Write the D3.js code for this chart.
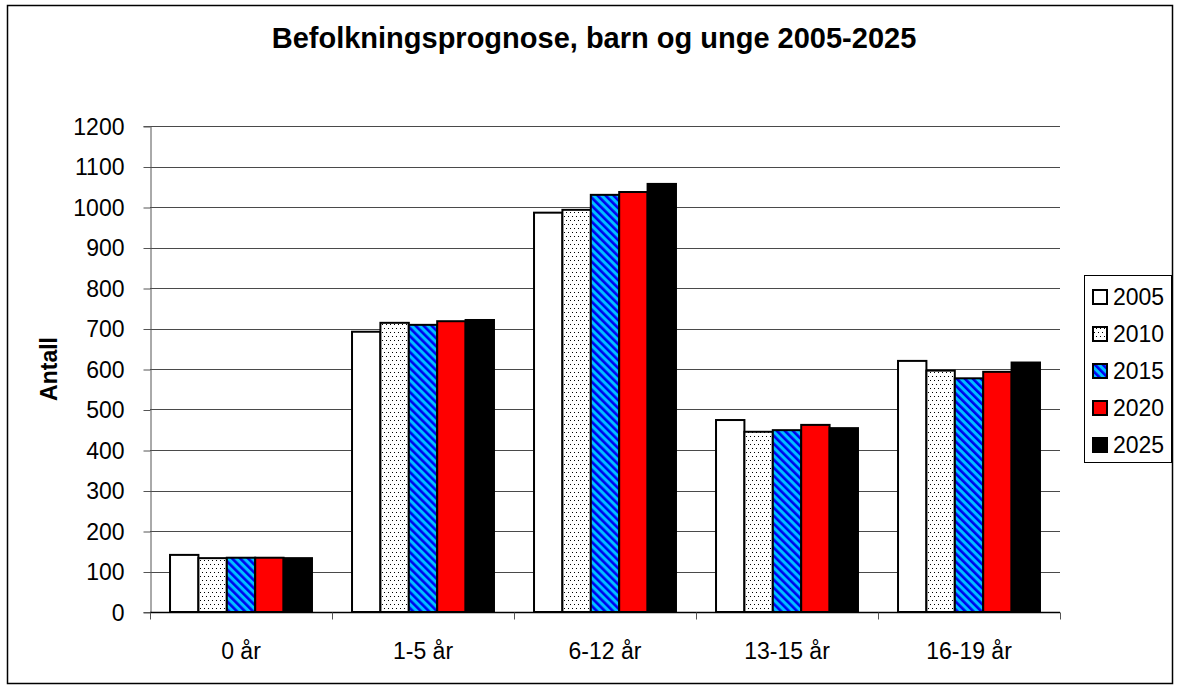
<!DOCTYPE html>
<html><head><meta charset="utf-8">
<script src="https://cdn.jsdelivr.net/npm/d3@7"></script>
<style>body{margin:0;background:#fff}svg{display:block}text{font-family:"Liberation Sans",Arial,sans-serif}</style>
</head><body><svg id="c" width="1180" height="688"></svg>
<script>
const categories = ["0 år","1-5 år","6-12 år","13-15 år","16-19 år"];
const series = ["2005","2010","2015","2020","2025"];
const v2005 = [141, 692, 986, 474, 620];
const v2010 = [133, 714, 993, 445, 596];
const v2015 = [134, 709, 1030, 449, 577];
const v2020 = [134, 718, 1037, 462, 593];
const v2025 = [133, 721, 1057, 454, 616];
const yTicks = [0,100,200,300,400,500,600,700,800,900,1000,1100,1200];
const values = [v2005, v2010, v2015, v2020, v2025];

const svg = d3.select("#c");
const defs = svg.append("defs");
// dots pattern
const pd = defs.append("pattern").attr("id","dots").attr("patternUnits","userSpaceOnUse").attr("width",8).attr("height",8);
pd.append("rect").attr("width",8).attr("height",8).attr("fill","#fff");
[[0,0],[4,0],[2,4],[6,4]].forEach(p=>pd.append("rect").attr("x",p[0]).attr("y",p[1]).attr("width",1).attr("height",1).attr("fill","#000"));
// stripes pattern
const ps = defs.append("pattern").attr("id","stripes").attr("patternUnits","userSpaceOnUse")
  .attr("width",5.66).attr("height",10).attr("patternTransform","rotate(-45)");
ps.append("rect").attr("width",5.66).attr("height",10).attr("fill","#00c0ff");
ps.append("rect").attr("width",2.6).attr("height",10).attr("fill","#0000ee");

const fills = ["#fff","url(#dots)","url(#stripes)","#ff0000","#000"];

// outer border
svg.append("rect").attr("x",7.5).attr("y",5.5).attr("width",1165).attr("height",678)
  .attr("fill","#fff").attr("stroke","#000").attr("stroke-width",1.5);

const L=150,R=1060,T=126,B=612;
const x0 = d3.scaleBand().domain(categories).range([L,R]).paddingInner(0.22).paddingOuter(0.11);
const x1 = d3.scaleBand().domain(series).range([0,x0.bandwidth()]).padding(0);
const y = d3.scaleLinear().domain([0,1200]).range([B,T]);

// gridlines
svg.append("g").selectAll("line").data(yTicks.filter(d=>d>0)).join("line")
  .attr("x1",L).attr("x2",R).attr("y1",d=>Math.round(y(d))+0.5).attr("y2",d=>Math.round(y(d))+0.5)
  .attr("stroke","#4a4a4a").attr("stroke-width",1);

// bars
const g = svg.append("g");
categories.forEach((c,ci)=>{
  series.forEach((s,si)=>{
    const v = values[si][ci];
    g.append("rect").attr("x",x0(c)+x1(s)).attr("y",y(v)).attr("width",x1.bandwidth()).attr("height",B-y(v))
      .attr("fill",fills[si]).attr("stroke","#000").attr("stroke-width",2);
  });
});

// y axis
const ya = svg.append("g").attr("transform",`translate(${L+0.5},0)`)
  .call(d3.axisLeft(y).tickValues(yTicks).tickFormat(d3.format("d")).tickSize(7).tickPadding(19));
ya.attr("font-family",null).attr("font-size",null);
ya.select(".domain").attr("stroke","#555");
ya.selectAll(".tick line").attr("stroke","#555").attr("transform","translate(0,0.5)");
ya.selectAll("text").attr("font-size",23).attr("fill","#000").attr("dy","0.36em");

// x axis
const xa = svg.append("g").attr("transform",`translate(0,${B+0.5})`);
xa.append("line").attr("x1",L).attr("x2",R).attr("stroke","#000").attr("stroke-width",1.5);
const bounds = d3.range(categories.length+1).map(i=>L+(R-L)/categories.length*i);
xa.selectAll("line.t").data(bounds).join("line").attr("class","t")
  .attr("x1",d=>Math.round(d)+0.5).attr("x2",d=>Math.round(d)+0.5).attr("y1",0).attr("y2",7).attr("stroke","#555");
xa.selectAll("text").data(categories).join("text")
  .attr("x",d=>x0(d)+x0.bandwidth()/2).attr("y",46).attr("text-anchor","middle").attr("font-size",23).text(d=>d);

// title
svg.append("text").attr("x",594).attr("y",48).attr("text-anchor","middle").attr("font-size",29).attr("font-weight","bold").text("Befolkningsprognose, barn og unge 2005-2025");
// y label
svg.append("text").attr("transform","translate(57,369) rotate(-90)").attr("text-anchor","middle").attr("font-size",23).attr("font-weight","bold").text("Antall");

// legend
const lg = svg.append("g");
lg.append("rect").attr("x",1084.5).attr("y",275.5).attr("width",87).attr("height",187).attr("fill","#fff").attr("stroke","#000").attr("stroke-width",1);
series.forEach((s,i)=>{
  const cy = 297 + i*37;
  lg.append("rect").attr("x",1093).attr("y",cy-7).attr("width",14).attr("height",14).attr("fill",fills[i]).attr("stroke","#000").attr("stroke-width",2);
  lg.append("text").attr("x",1113).attr("y",cy+8).attr("font-size",23).text(s);
});
</script></body></html>
